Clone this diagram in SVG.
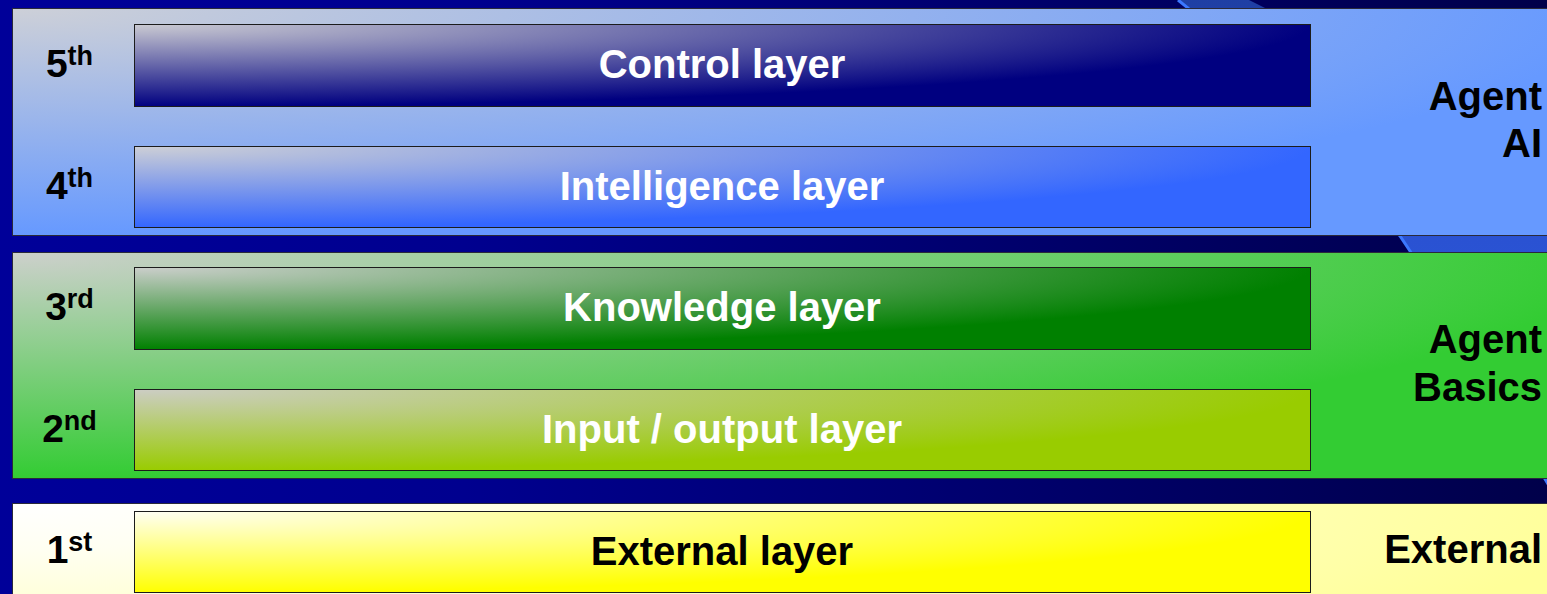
<svg xmlns="http://www.w3.org/2000/svg" width="1547" height="594" viewBox="0 0 1547 594">
<defs>
  <linearGradient id="bg" x1="0" y1="0" x2="1547" y2="0" gradientUnits="userSpaceOnUse">
    <stop offset="0" stop-color="#000099"/>
    <stop offset="0.3" stop-color="#00008f"/>
    <stop offset="1" stop-color="#00004a"/>
  </linearGradient>
  <linearGradient id="swoosh" x1="0" y1="0" x2="0" y2="480" gradientUnits="userSpaceOnUse">
    <stop offset="0" stop-color="#1f3fa4"/>
    <stop offset="0.5" stop-color="#2a52d2"/>
    <stop offset="1" stop-color="#2f5ee4"/>
  </linearGradient>
  <radialGradient id="gPanelBlue" cx="0" cy="0" r="1" fx="0" fy="0">
    <stop offset="0" stop-color="#cdd0d8"/>
    <stop offset="1" stop-color="#6699ff"/>
  </radialGradient>
  <radialGradient id="gPanelGreen" cx="0" cy="0" r="1" fx="0" fy="0">
    <stop offset="0" stop-color="#cdd0cc"/>
    <stop offset="1" stop-color="#33cc33"/>
  </radialGradient>
  <radialGradient id="gPanelYellow" cx="0" cy="0" r="1" fx="0" fy="0">
    <stop offset="0" stop-color="#ffffff"/>
    <stop offset="0.2" stop-color="#fffff2"/>
    <stop offset="1" stop-color="#ffff99"/>
  </radialGradient>
  <radialGradient id="gControl" cx="0" cy="0" r="1" fx="0" fy="0">
    <stop offset="0" stop-color="#cacad2"/>
    <stop offset="1" stop-color="#000080"/>
  </radialGradient>
  <radialGradient id="gIntel" cx="0" cy="0" r="1" fx="0" fy="0">
    <stop offset="0" stop-color="#cdcfd6"/>
    <stop offset="1" stop-color="#3366ff"/>
  </radialGradient>
  <radialGradient id="gKnow" cx="0" cy="0" r="1" fx="0" fy="0">
    <stop offset="0" stop-color="#cbcecb"/>
    <stop offset="1" stop-color="#008000"/>
  </radialGradient>
  <radialGradient id="gIO" cx="0" cy="0" r="1" fx="0" fy="0">
    <stop offset="0" stop-color="#cccdc4"/>
    <stop offset="1" stop-color="#99cc00"/>
  </radialGradient>
  <radialGradient id="gExt" cx="0" cy="0" r="1" fx="0" fy="0">
    <stop offset="0" stop-color="#fffff4"/>
    <stop offset="1" stop-color="#ffff00"/>
  </radialGradient>
</defs>
<style>
  .panel { stroke: #2a2a3a; stroke-width: 1; }
  .layer { stroke: #1c1c1c; stroke-width: 1; }
  .lname { font-family: "Liberation Sans", Arial, sans-serif; font-weight: bold; font-size: 40px; fill: #ffffff; text-anchor: middle; }
  .dark { fill: #000000; }
  .num { font-family: "Liberation Sans", Arial, sans-serif; font-weight: bold; font-size: 39px; fill: #000000; text-anchor: middle; }
  .sup { font-size: 27px; }
  .side { font-family: "Liberation Sans", Arial, sans-serif; font-weight: bold; font-size: 40px; fill: #000000; text-anchor: end; }
</style>

<!-- background -->
<rect x="0" y="0" width="1547" height="594" fill="url(#bg)"/>
<path d="M1178,0 L1188,8 L1400,236 L1410,251 L1545,479 L1570,520 L1600,520 L1600,200 L1265,8 L1249,0 Z" fill="url(#swoosh)"/>
<polyline points="1178,0 1188,8 1400,236 1410,251 1545,479 1570,520" fill="none" stroke="#3c78ff" stroke-width="3"/>

<!-- panels -->
<g id="panel-agent-ai">
  <rect class="panel" x="12.5" y="8.5" width="1600" height="227" fill="url(#gPanelBlue)"/>
  <text class="side" x="1542" y="110">Agent</text>
  <text class="side" x="1542" y="157">AI</text>
</g>
<g id="panel-agent-basics">
  <rect class="panel" x="12.5" y="252.5" width="1600" height="226" fill="url(#gPanelGreen)"/>
  <text class="side" x="1542" y="353">Agent</text>
  <text class="side" x="1542" y="401">Basics</text>
</g>
<g id="panel-external">
  <rect class="panel" x="12.5" y="503.5" width="1600" height="227" fill="url(#gPanelYellow)"/>
  <text class="side" x="1542" y="563">External</text>
</g>

<!-- layers -->
<g id="layer-5">
  <rect class="layer" x="134.5" y="24.5" width="1176" height="82" fill="url(#gControl)"/>
  <text class="lname" x="722" y="78">Control layer</text>
  <text class="num" x="69.5" y="77">5<tspan class="sup" dy="-12">th</tspan></text>
</g>
<g id="layer-4">
  <rect class="layer" x="134.5" y="146.5" width="1176" height="81" fill="url(#gIntel)"/>
  <text class="lname" x="722" y="200">Intelligence layer</text>
  <text class="num" x="69.5" y="199">4<tspan class="sup" dy="-12">th</tspan></text>
</g>
<g id="layer-3">
  <rect class="layer" x="134.5" y="267.5" width="1176" height="82" fill="url(#gKnow)"/>
  <text class="lname" x="722" y="321">Knowledge layer</text>
  <text class="num" x="69.5" y="320">3<tspan class="sup" dy="-12">rd</tspan></text>
</g>
<g id="layer-2">
  <rect class="layer" x="134.5" y="389.5" width="1176" height="81" fill="url(#gIO)"/>
  <text class="lname" x="722" y="443">Input / output layer</text>
  <text class="num" x="69.5" y="442">2<tspan class="sup" dy="-12">nd</tspan></text>
</g>
<g id="layer-1">
  <rect class="layer" x="134.5" y="511.5" width="1176" height="81" fill="url(#gExt)"/>
  <text class="lname dark" x="722" y="565">External layer</text>
  <text class="num" x="69.5" y="563">1<tspan class="sup" dy="-12">st</tspan></text>
</g>

<g id="connectors"></g>
</svg>
